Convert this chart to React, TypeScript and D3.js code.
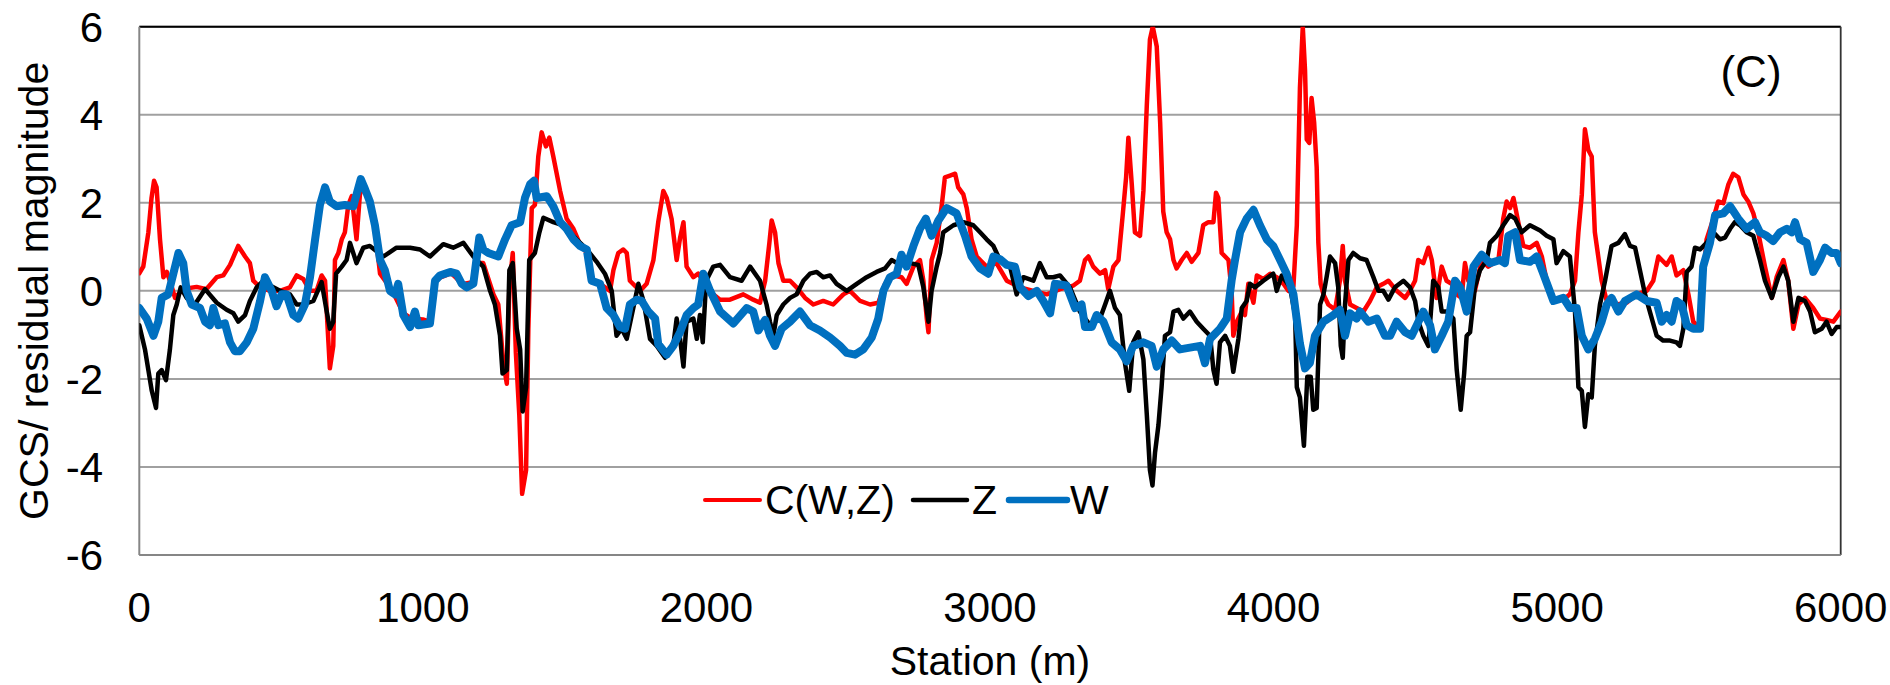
import React from "react";
import * as d3 from "d3";

// ---- data (station m, value) ----
const C_WZ: [number, number][] = [
[0,0.4],[14,0.55],[32,1.33],[43,2.1],[52,2.5],[61,2.35],[73,1.17],[85,0.31],[97,0.43],[108,0.23],[126,-0.16],[155,0.04],[202,0.09],[237,0.04],[273,0.31],[296,0.35],[320,0.59],[349,1.02],[373,0.78],[390,0.63],[402,0.23],[426,0.08],[461,0],[496,0],[531,0.08],[555,0.35],[578,0.27],[602,0],[625,0],[643,0.35],[655,0.23],[667,-1.17],[672,-1.76],[684,-1.25],[690,0.7],[702,0.86],[714,1.17],[725,1.33],[737,1.95],[749,2.15],[766,1.17],[778,2.19],[790,2.4],[813,2.0],[831,1.4],[849,0.39],[870,0.2],[900,-0.1],[930,-0.5],[960,-0.63],[1000,-0.65],[1025,-0.7],[1043,0.2],[1060,0.3],[1100,0.4],[1140,0.15],[1178,0.2],[1190,0.63],[1213,0.63],[1225,0.39],[1249,-0.08],[1266,-0.31],[1284,-1.64],[1296,-2.11],[1305,0.08],[1317,0.86],[1328,-1.41],[1340,-2.81],[1350,-4.61],[1364,-4.07],[1372,-0.86],[1384,1.88],[1395,1.95],[1407,3.05],[1419,3.6],[1434,3.28],[1446,3.48],[1460,3.05],[1484,2.27],[1507,1.64],[1531,1.41],[1554,1.06],[1578,0.86],[1595,0.23],[1625,0.16],[1660,0],[1672,0.47],[1689,0.86],[1707,0.94],[1719,0.86],[1730,0.23],[1766,0],[1789,0.16],[1813,0.7],[1830,1.56],[1848,2.27],[1860,2.11],[1877,1.64],[1895,0.7],[1907,1.2],[1919,1.56],[1930,0.55],[1954,0.31],[1971,0.39],[1989,0.23],[2024,-0.08],[2048,-0.2],[2083,-0.2],[2130,-0.08],[2165,-0.2],[2189,-0.27],[2207,0.23],[2222,1.09],[2230,1.6],[2242,1.33],[2254,0.63],[2271,0.23],[2295,0.23],[2318,0.08],[2348,-0.16],[2377,-0.31],[2412,-0.23],[2447,-0.31],[2483,-0.08],[2506,0],[2542,-0.23],[2577,-0.31],[2606,-0.27],[2630,0.16],[2659,0.35],[2688,0.31],[2706,0.16],[2730,0.55],[2753,0.7],[2765,0.23],[2777,-0.63],[2783,-0.94],[2794,0.7],[2812,1.09],[2830,1.95],[2841,2.58],[2859,2.62],[2877,2.66],[2888,2.35],[2906,2.19],[2918,1.88],[2935,1.17],[2953,0.78],[2988,0.55],[3023,0.63],[3059,0.23],[3106,0.08],[3153,0],[3200,-0.08],[3247,0.04],[3294,0.12],[3317,0.23],[3335,0.7],[3347,0.78],[3364,0.55],[3388,0.39],[3406,0.47],[3417,0.04],[3435,0.55],[3453,0.7],[3468,1.72],[3480,2.58],[3488,3.48],[3500,2.42],[3511,1.33],[3529,1.25],[3541,2.27],[3553,4.22],[3564,5.71],[3574,6.0],[3588,5.55],[3600,3.83],[3611,1.8],[3623,1.33],[3635,1.17],[3647,0.7],[3658,0.51],[3676,0.7],[3694,0.86],[3711,0.66],[3735,0.86],[3752,1.49],[3770,1.56],[3788,1.56],[3797,2.23],[3805,2.11],[3817,0.86],[3841,0.7],[3852,0],[3858,-1.02],[3870,-0.7],[3888,-0.47],[3899,-0.55],[3911,0.16],[3929,-0.27],[3941,0.35],[3964,0.27],[3988,0.39],[4011,0.31],[4035,0.16],[4052,0],[4070,0.1],[4082,1.49],[4093,4.61],[4103,6.0],[4111,5.0],[4117,3.44],[4126,3.36],[4134,4.38],[4143,3.83],[4152,2.81],[4158,1.09],[4166,0.16],[4176,-0.08],[4193,-0.31],[4217,-0.43],[4234,0.23],[4244,1.02],[4252,0.23],[4270,-0.31],[4293,-0.39],[4317,-0.47],[4340,-0.23],[4364,0.08],[4387,0.16],[4405,0.23],[4434,0],[4464,-0.16],[4481,0],[4499,0.23],[4510,0.7],[4528,0.63],[4546,0.98],[4558,0.7],[4575,-0.16],[4593,0.55],[4610,0.23],[4628,0.16],[4646,-0.08],[4663,-0.16],[4675,0.63],[4687,0.23],[4710,0],[4734,0.7],[4757,0.55],[4793,0.7],[4810,1.64],[4822,2.03],[4834,1.88],[4846,2.11],[4863,1.56],[4881,1.02],[4904,0.98],[4928,1.09],[4946,0.78],[4963,0.23],[4987,-0.16],[5022,-0.2],[5045,-0.08],[5063,0.23],[5075,1.33],[5087,2.19],[5098,3.67],[5110,3.2],[5122,3.05],[5133,1.33],[5145,0.78],[5157,0.23],[5175,-0.23],[5210,-0.31],[5245,-0.27],[5280,-0.08],[5316,0],[5339,0.23],[5357,0.78],[5369,0.7],[5386,0.59],[5404,0.78],[5421,0.35],[5445,0.47],[5463,-0.08],[5480,-0.7],[5504,-0.86],[5515,0.3],[5527,1.17],[5551,1.64],[5568,2.03],[5586,1.99],[5604,2.42],[5621,2.66],[5639,2.58],[5657,2.19],[5674,2.03],[5692,1.76],[5709,1.33],[5733,0.55],[5757,-0.16],[5774,0.31],[5798,0.7],[5815,0.23],[5833,-0.86],[5851,-0.31],[5874,-0.16],[5903,-0.39],[5927,-0.63],[5950,-0.66],[5974,-0.7],[6000,-0.47]
];

const Z_SERIES: [number, number][] = [
[0,-0.78],[20,-1.33],[32,-1.8],[44,-2.27],[59,-2.66],[67,-1.88],[79,-1.8],[94,-2.03],[108,-1.33],[120,-0.55],[132,-0.31],[146,0.08],[167,-0.16],[196,-0.31],[232,0.04],[273,-0.27],[308,-0.43],[332,-0.51],[349,-0.7],[373,-0.55],[390,-0.23],[414,0.08],[437,0.23],[461,0.12],[496,0],[531,-0.08],[555,-0.31],[578,-0.31],[614,-0.23],[643,0.2],[661,-0.47],[672,-0.86],[684,-0.7],[694,0.39],[714,0.55],[731,0.7],[743,1.09],[766,0.63],[790,0.98],[813,1.02],[861,0.78],[907,0.98],[955,0.98],[990,0.94],[1025,0.78],[1072,1.06],[1107,0.98],[1143,1.09],[1178,0.78],[1213,0.55],[1237,0],[1254,-0.31],[1272,-1.02],[1281,-1.88],[1296,-1.8],[1305,0.47],[1317,0.63],[1331,-0.86],[1343,-1.33],[1352,-2.74],[1364,-2.19],[1375,0.7],[1395,0.86],[1411,1.33],[1425,1.66],[1460,1.56],[1495,1.49],[1542,1.17],[1578,0.94],[1613,0.66],[1642,0.39],[1666,0],[1683,-1.02],[1701,-0.86],[1719,-1.09],[1742,-0.39],[1760,0.16],[1778,-0.23],[1801,-1.09],[1825,-1.25],[1854,-1.52],[1883,-1.25],[1895,-0.63],[1907,-1.09],[1919,-1.72],[1930,-0.7],[1954,-0.63],[1966,-1.09],[1977,-0.55],[1987,-1.17],[1999,0.23],[2024,0.55],[2048,0.59],[2083,0.31],[2124,0.23],[2154,0.55],[2189,0.23],[2212,-0.31],[2224,-0.7],[2236,-1.02],[2248,-0.55],[2271,-0.31],[2295,-0.16],[2318,-0.08],[2342,0.23],[2365,0.39],[2389,0.43],[2412,0.31],[2436,0.35],[2459,0.16],[2495,0],[2530,0.16],[2565,0.31],[2600,0.43],[2630,0.51],[2653,0.7],[2683,0.59],[2718,0.63],[2747,0.59],[2765,0.08],[2783,-0.7],[2794,0],[2812,0.55],[2824,0.86],[2835,1.33],[2871,1.49],[2906,1.56],[2941,1.49],[2965,1.33],[2988,1.17],[3012,1.02],[3035,0.7],[3071,0.55],[3094,-0.08],[3118,0.31],[3153,0.23],[3176,0.63],[3200,0.31],[3223,0.31],[3247,0.35],[3282,0.08],[3317,-0.47],[3353,-0.78],[3388,-0.63],[3406,-0.31],[3423,0],[3441,-0.39],[3458,-0.55],[3476,-1.64],[3491,-2.27],[3505,-1.17],[3523,-0.94],[3541,-1.56],[3553,-2.81],[3564,-4.07],[3573,-4.42],[3582,-3.67],[3594,-3.05],[3605,-2.19],[3617,-1.02],[3635,-0.94],[3647,-0.47],[3664,-0.43],[3682,-0.63],[3705,-0.47],[3729,-0.7],[3752,-0.86],[3776,-1.02],[3788,-1.8],[3799,-2.11],[3811,-1.17],[3829,-1.02],[3846,-1.25],[3858,-1.84],[3876,-1.09],[3888,-0.39],[3905,-0.23],[3917,0.16],[3935,0.08],[3964,0.23],[3999,0.39],[4011,0],[4029,0.35],[4058,0.08],[4076,-0.55],[4082,-2.19],[4093,-2.42],[4107,-3.52],[4119,-1.95],[4131,-1.95],[4140,-2.7],[4152,-2.66],[4164,-0.31],[4176,-0.08],[4187,0.31],[4199,0.78],[4217,0.63],[4228,0.08],[4237,-1.25],[4244,-1.52],[4252,-0.31],[4264,0.7],[4281,0.86],[4305,0.74],[4328,0.7],[4352,0.31],[4370,0],[4387,0],[4405,-0.2],[4428,0.08],[4458,0.23],[4481,0.08],[4499,-0.23],[4511,-0.7],[4528,-1.02],[4546,-1.25],[4563,0.23],[4581,0.08],[4593,-0.47],[4610,-0.47],[4634,-0.63],[4646,-1.8],[4660,-2.7],[4672,-1.88],[4681,-1.02],[4693,-0.94],[4710,0.08],[4728,0.47],[4752,0.7],[4763,1.09],[4787,1.25],[4810,1.49],[4834,1.72],[4852,1.64],[4875,1.33],[4904,1.49],[4940,1.37],[4963,1.25],[4987,1.17],[4998,0.63],[5022,0.9],[5045,0.78],[5063,-0.47],[5075,-2.19],[5087,-2.27],[5098,-3.09],[5110,-2.35],[5122,-2.42],[5133,-1.25],[5151,-0.31],[5169,0.23],[5192,1.02],[5216,1.09],[5239,1.29],[5257,1.02],[5275,0.98],[5292,0.47],[5310,-0.08],[5327,-0.47],[5351,-1.02],[5374,-1.13],[5398,-1.13],[5421,-1.17],[5433,-1.25],[5445,-0.86],[5457,0.43],[5474,0.55],[5486,0.98],[5504,0.94],[5527,1.09],[5551,1.33],[5574,1.17],[5592,1.21],[5610,1.41],[5627,1.56],[5645,1.49],[5668,1.33],[5692,1.25],[5715,0.7],[5733,0.23],[5757,-0.16],[5780,0.31],[5798,0.55],[5815,0.23],[5833,-0.7],[5851,-0.16],[5874,-0.23],[5892,-0.47],[5909,-0.94],[5933,-0.86],[5950,-0.7],[5968,-0.98],[5986,-0.82],[6000,-0.82]
];

const W_SERIES: [number, number][] = [
[0,-0.39],[26,-0.63],[50,-1.02],[67,-0.7],[79,-0.16],[102,-0.08],[120,0.39],[138,0.86],[155,0.63],[167,0],[185,-0.31],[214,-0.39],[232,-0.7],[249,-0.78],[261,-0.39],[279,-0.78],[302,-0.74],[320,-1.17],[337,-1.37],[355,-1.37],[379,-1.17],[402,-0.86],[426,-0.23],[443,0.31],[467,0],[484,-0.35],[502,-0.08],[519,-0.08],[543,-0.55],[561,-0.63],[584,-0.31],[602,0.31],[620,1.17],[637,1.95],[655,2.35],[672,2.03],[696,1.92],[725,1.95],[755,1.92],[766,2.19],[781,2.54],[796,2.31],[813,2.03],[831,1.49],[849,0.7],[866,0.47],[884,0],[902,-0.08],[913,0.16],[931,-0.55],[955,-0.82],[972,-0.47],[984,-0.78],[1025,-0.74],[1043,0.23],[1060,0.35],[1096,0.43],[1119,0.39],[1137,0.16],[1154,0.08],[1178,0.16],[1199,1.21],[1213,0.94],[1231,0.86],[1266,0.78],[1290,1.17],[1313,1.49],[1343,1.56],[1360,2.11],[1378,2.42],[1392,2.5],[1401,2.11],[1437,2.15],[1460,1.92],[1484,1.56],[1507,1.41],[1531,1.17],[1554,1.02],[1578,0.94],[1595,0.23],[1625,0.16],[1648,-0.39],[1672,-0.55],[1695,-0.82],[1713,-0.86],[1730,-0.31],[1754,-0.2],[1772,-0.23],[1795,-0.47],[1819,-0.63],[1830,-1.21],[1860,-1.45],[1883,-1.25],[1907,-0.94],[1930,-0.55],[1954,-0.39],[1971,-0.31],[1989,0.39],[2013,0],[2048,-0.47],[2095,-0.74],[2142,-0.39],[2165,-0.47],[2183,-0.9],[2207,-0.66],[2224,-1.02],[2242,-1.25],[2265,-0.86],[2295,-0.7],[2330,-0.47],[2365,-0.78],[2400,-0.9],[2436,-1.06],[2471,-1.25],[2495,-1.41],[2524,-1.45],[2553,-1.33],[2583,-1.06],[2606,-0.63],[2624,0],[2647,0.31],[2671,0.39],[2688,0.82],[2706,0.55],[2730,1.02],[2753,1.41],[2774,1.64],[2794,1.25],[2818,1.6],[2847,1.88],[2882,1.76],[2912,1.25],[2935,0.78],[2965,0.51],[2994,0.39],[3012,0.78],[3035,0.72],[3059,0.59],[3088,0.55],[3106,0.08],[3135,-0.12],[3165,0],[3188,-0.23],[3212,-0.51],[3229,0.16],[3270,0.12],[3300,-0.39],[3323,-0.31],[3335,-0.82],[3359,-0.82],[3376,-0.55],[3400,-0.7],[3429,-1.17],[3458,-1.33],[3482,-1.6],[3505,-1.25],[3541,-1.17],[3570,-1.25],[3588,-1.72],[3611,-1.33],[3641,-1.13],[3670,-1.33],[3705,-1.29],[3741,-1.25],[3758,-1.64],[3776,-1.09],[3811,-0.86],[3835,-0.63],[3852,0.23],[3864,0.7],[3882,1.33],[3905,1.64],[3929,1.84],[3952,1.49],[3976,1.17],[3999,1.02],[4023,0.7],[4046,0.39],[4070,-0.08],[4093,-1.2],[4111,-1.76],[4128,-1.64],[4146,-1.02],[4176,-0.7],[4211,-0.55],[4234,-0.43],[4252,-1.02],[4270,-0.51],[4293,-0.63],[4305,-0.47],[4334,-0.7],[4364,-0.63],[4393,-1.02],[4411,-1.02],[4434,-0.7],[4464,-0.94],[4487,-1.02],[4505,-0.78],[4528,-0.47],[4552,-0.78],[4569,-1.33],[4593,-1.02],[4616,-0.7],[4640,0.23],[4658,0.08],[4681,-0.47],[4705,0.55],[4734,0.82],[4763,0.63],[4799,0.7],[4816,0.63],[4828,1.25],[4852,1.33],[4869,0.7],[4904,0.66],[4928,0.78],[4951,0.39],[4987,-0.23],[5022,-0.16],[5045,-0.39],[5069,-0.39],[5087,-1.02],[5110,-1.33],[5133,-1.09],[5157,-0.7],[5175,-0.31],[5192,-0.16],[5216,-0.47],[5239,-0.23],[5280,-0.08],[5316,-0.23],[5351,-0.27],[5369,-0.7],[5386,-0.55],[5404,-0.7],[5421,-0.23],[5439,-0.31],[5457,-0.78],[5480,-0.86],[5504,-0.86],[5515,0.55],[5539,1.09],[5557,1.72],[5586,1.76],[5610,1.92],[5639,1.64],[5668,1.41],[5698,1.56],[5715,1.33],[5739,1.25],[5762,1.13],[5786,1.33],[5810,1.41],[5827,1.33],[5839,1.56],[5857,1.17],[5880,1.09],[5903,0.43],[5927,0.7],[5945,0.98],[5968,0.86],[5986,0.86],[6000,0.63]
];

const X_TICKS = [0, 1000, 2000, 3000, 4000, 5000, 6000];
const Y_TICKS = [-6, -4, -2, 0, 2, 4, 6];
const SERIES_NAMES = ["C(W,Z)", "Z", "W"];
const SERIES_COLORS = ["#FF0000", "#000000", "#0070C0"];
const SERIES_WIDTHS = [4.5, 4.5, 8];
const LEGEND_WIDTHS = [4, 4.5, 6.5];
const PANEL_LABEL = "(C)";
const X_TITLE = "Station (m)";
const Y_TITLE = "GCS/ residual magnitude";

const W = 1890, H = 685;
const L = 139.3, R = 1840.7, T = 26.7, B = 555;
const FONT = "'Liberation Sans', Arial, sans-serif";

export default function App() {
  const x = d3.scaleLinear().domain([0, 6000]).range([L, R]);
  const y = d3.scaleLinear().domain([-6, 6]).range([B, T]);
  const line = d3.line<[number, number]>().x(d => x(d[0])).y(d => y(d[1]));
  const all = [C_WZ, Z_SERIES, W_SERIES];

  const legend = [
    { x1: 705, x2: 760, tx: 765 },
    { x1: 913, x2: 967, tx: 972 },
    { x1: 1009, x2: 1067, tx: 1070 },
  ];

  return (
    <svg width={W} height={H} style={{ position: "absolute", left: 0, top: 0, background: "#fff" }} fontFamily={FONT}>
      <defs>
        <clipPath id="plotclip">
          <rect x={L} y={T} width={R - L} height={B - T} />
        </clipPath>
      </defs>
      <rect x={0} y={0} width={W} height={H} fill="#fff" />
      {Y_TICKS.map(v => (
        <line key={"g" + v} x1={L} x2={R} y1={y(v)} y2={y(v)} stroke="#A0A0A0" strokeWidth={2} />
      ))}
      <line x1={L} x2={R} y1={T} y2={T} stroke="#000" strokeWidth={2} />
      <line x1={R} x2={R} y1={T} y2={B} stroke="#333" strokeWidth={1.8} />
      <line x1={L} x2={L} y1={T} y2={B} stroke="#868686" strokeWidth={2} />
      <line x1={L} x2={R} y1={B} y2={B} stroke="#868686" strokeWidth={2.2} />

      <g clipPath="url(#plotclip)">
        {all.map((s, i) => (
          <path key={i} d={line(s) || ""} fill="none" stroke={SERIES_COLORS[i]} strokeWidth={SERIES_WIDTHS[i]} strokeLinejoin="round" strokeLinecap="round" />
        ))}
      </g>

      {Y_TICKS.map(v => (
        <text key={"yt" + v} x={103} y={y(v)} dy="0.36em" textAnchor="end" fontSize={42} fill="#000">{v}</text>
      ))}
      {X_TICKS.map(v => (
        <text key={"xt" + v} x={x(v)} y={622} textAnchor="middle" fontSize={42} fill="#000">{v}</text>
      ))}
      <text x={(L + R) / 2} y={675} textAnchor="middle" fontSize={41} fill="#000">{X_TITLE}</text>
      <text transform={`translate(48, ${(T + B) / 2}) rotate(-90)`} textAnchor="middle" fontSize={41} fill="#000">{Y_TITLE}</text>
      <text x={1751} y={87} textAnchor="middle" fontSize={44} fill="#000">{PANEL_LABEL}</text>

      {SERIES_NAMES.map((n, i) => (
        <g key={n}>
          <line x1={legend[i].x1} x2={legend[i].x2} y1={500} y2={500} stroke={SERIES_COLORS[i]} strokeWidth={LEGEND_WIDTHS[i]} strokeLinecap="round" />
          <text x={legend[i].tx} y={514} fontSize={41} fill="#000">{n}</text>
        </g>
      ))}
    </svg>
  );
}
